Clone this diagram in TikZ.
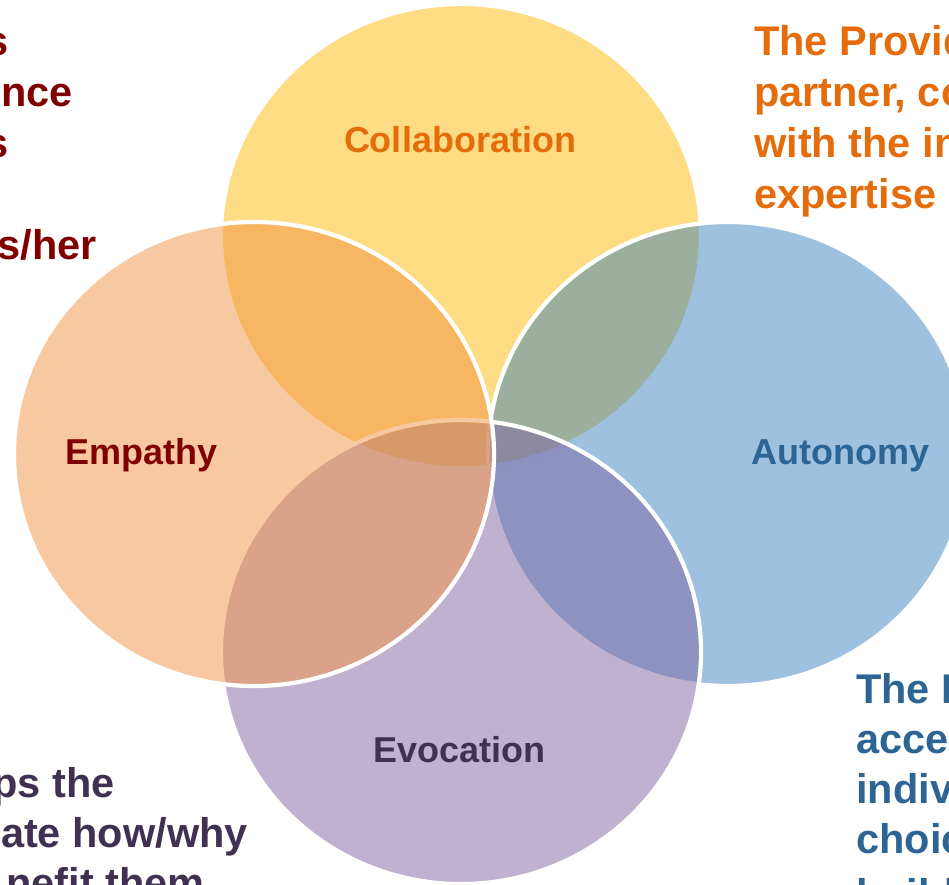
\documentclass[tikz,border=0pt]{standalone}
\usepackage{fontspec}
\setmainfont{Liberation Sans}
\usetikzlibrary{shapes.geometric}
\definecolor{collabfill}{RGB}{251,186,8}
\definecolor{empfill}{RGB}{242,148,66}
\definecolor{autofill}{RGB}{60,131,189}
\definecolor{evofill}{RGB}{128,100,162}
\definecolor{orangetxt}{RGB}{228,108,10}
\definecolor{redtxt}{RGB}{128,0,0}
\definecolor{bluetxt}{RGB}{44,100,147}
\definecolor{purpletxt}{RGB}{64,49,82}
\begin{document}
\begin{tikzpicture}[x=1pt,y=-1pt,
  blob/.style={ellipse, draw=white, line width=4.2pt, fill opacity=0.5,
    minimum width=480pt, minimum height=464pt, inner sep=0pt, outer sep=0pt},
  lab/.style={font=\bfseries\fontsize{36}{43}\selectfont, inner sep=0pt, anchor=base},
  sidew/.style={font=\bfseries\fontsize{41.5}{50}\selectfont, inner sep=0pt, anchor=base west},
  sidee/.style={font=\bfseries\fontsize{41.5}{50}\selectfont, inner sep=0pt, anchor=base east},
]
\useasboundingbox (0,0) rectangle (949,884);
\clip (0,0) rectangle (949,884);
% circles (drawing order matters)
\node[blob, fill=collabfill] (collab) at (461,236) {};
\node[blob, fill=autofill] (auto) at (728,454) {};
\node[blob, fill=evofill] (evo) at (461,652) {};
\node[blob, fill=empfill] (emp) at (254,454) {};
% labels
\node[lab, text=orangetxt] (lcollab) at (460,152) {Collaboration};
\node[lab, text=redtxt] (lemp) at (141.5,464) {Empathy};
\node[lab, text=bluetxt] (lauto) at (840.5,464) {Autonomy};
\node[lab, text=purpletxt] (levo) at (459.5,762) {Evocation};
% top-left text
\node[sidee, text=redtxt] (tl1) at (9,55) {s};
\node[sidee, text=redtxt] (tl2) at (73,106) {ence};
\node[sidee, text=redtxt] (tl3) at (9,157) {s};
\node[sidee, text=redtxt] (tl5) at (97,259) {s/her};
% top-right text
\node[sidew, text=orangetxt] (tr1) at (754,55) {The Provid};
\node[sidew, text=orangetxt] (tr2) at (754,106) {partner, co};
\node[sidew, text=orangetxt] (tr3) at (754,157) {with the in};
\node[sidew, text=orangetxt] (tr4) at (754,208) {expertise};
% bottom-left text
\node[sidee, text=purpletxt] (bl1) at (115,797) {ps the};
\node[sidee, text=purpletxt] (bl2) at (248,847) {ate how/why};
\node[sidee, text=purpletxt] (bl3) at (205,897) {nefit them};
% bottom-right text
\node[sidew, text=bluetxt] (br1) at (856,703) {The P};
\node[sidew, text=bluetxt] (br2) at (856,753) {acce};
\node[sidew, text=bluetxt] (br3) at (856,803) {indiv};
\node[sidew, text=bluetxt] (br4) at (856,853) {choic};
\node[sidew, text=bluetxt] (br5) at (856,908) {build};
\end{tikzpicture}
\end{document}
